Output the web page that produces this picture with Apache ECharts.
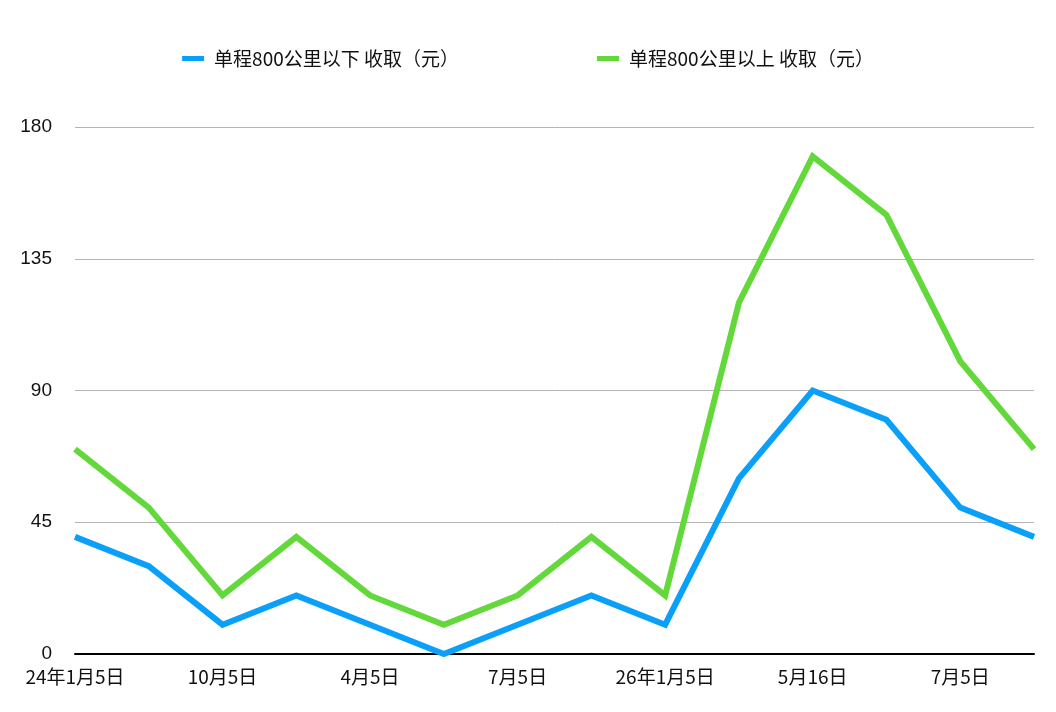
<!DOCTYPE html>
<html>
<head>
<meta charset="utf-8">
<script src="https://cdn.jsdelivr.net/npm/echarts@6/dist/echarts.min.js"></script>
<style>
html,body{margin:0;padding:0;background:#fff;}
#c{width:1056px;height:712px;}
</style>
</head>
<body>
<div id="c"></div>
<script>
const categories = ['24年1月5日','4月5日','10月5日','25年1月5日','4月5日','5月5日','7月5日','10月5日','26年1月5日','4月5日','5月16日','6月5日','7月5日','8月5日'];
const seriesNames = ['单程800公里以下 收取（元）','单程800公里以上 收取（元）'];
const below800 = [40,30,10,20,10,0,10,20,10,60,90,80,50,40];
const above800 = [70,50,20,40,20,10,20,40,20,120,170,150,100,70];
const yTicks = [0,45,90,135,180];

const chart = echarts.init(document.getElementById('c'));
const font = '"Noto Sans CJK SC", "Noto Sans", sans-serif';
chart.setOption({
  animation:false,
  color:['#0aa0fa','#63d83a'],
  legend:{
    top:44,
    left:'center',
    itemGap:138,
    itemWidth:22,
    itemHeight:5,
    icon:'rect',
    textStyle:{fontSize:19,color:'#111',fontFamily:font,padding:[0,0,0,5]},
    data:seriesNames
  },
  grid:{left:75,right:22,top:127,bottom:58,containLabel:false},
  xAxis:{
    type:'category',
    boundaryGap:false,
    data:categories,
    axisLine:{show:true,lineStyle:{color:'#000',width:2}},
    axisTick:{show:false},
    axisLabel:{interval:1,color:'#111',fontSize:19,fontFamily:font,margin:13},
    splitLine:{show:false}
  },
  yAxis:{
    type:'value',
    min:yTicks[0],
    max:yTicks[yTicks.length-1],
    interval:45,
    axisLine:{show:false},
    axisTick:{show:false},
    axisLabel:{color:'#111',fontSize:19,fontFamily:'"Liberation Sans", Arial, sans-serif',margin:23},
    splitLine:{lineStyle:{color:'#b4b4b4',width:1}}
  },
  series:[
    {name:seriesNames[0],type:'line',data:below800,showSymbol:false,symbol:'none',lineStyle:{width:6,join:'miter'},z:3},
    {name:seriesNames[1],type:'line',data:above800,showSymbol:false,symbol:'none',lineStyle:{width:6,join:'miter'},z:2}
  ]
});
</script>
</body>
</html>
